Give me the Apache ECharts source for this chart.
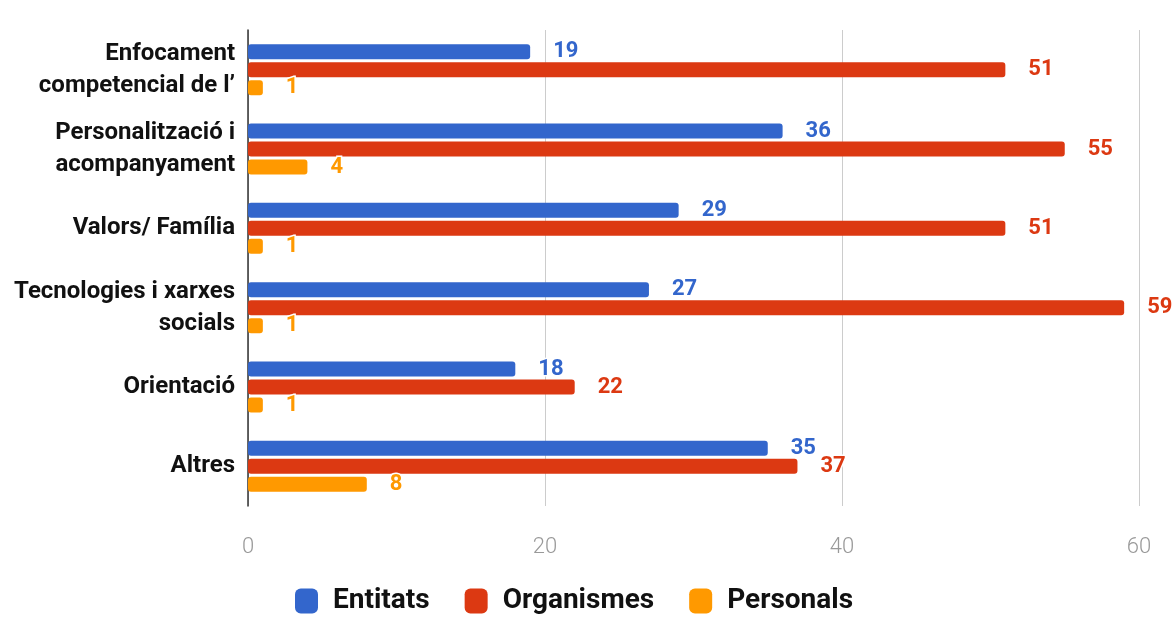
<!DOCTYPE html>
<html>
<head>
<meta charset="utf-8">
<script src="https://cdn.jsdelivr.net/npm/echarts@6/dist/echarts.min.js"></script>
<style>
  html, body { margin: 0; padding: 0; background: #fff; }
  #chart { width: 1175px; height: 617px; }
</style>
</head>
<body>
<div id="chart"></div>
<script>
// categories, top to bottom
const categories = [
  'Enfocament\ncompetencial de l’',
  'Personalització i\nacompanyament',
  'Valors/ Família',
  'Tecnologies i xarxes\nsocials',
  'Orientació',
  'Altres'
]
const entitats = [19, 36, 29, 27, 18, 35]
const organismes = [51, 55, 51, 59, 22, 37]
const personals = [1, 4, 1, 1, 1, 8]
const seriesNames = ['Entitats', 'Organismes', 'Personals']
const colors = ['#3366cc', '#dc3912', '#ff9900']

const makeSeries = (name, data, color) => ({
  name: name,
  type: 'bar',
  data: data,
  barWidth: 15,
  barGap: '20%',
  itemStyle: { color: color, borderRadius: 3 },
  label: {
    show: true,
    position: 'right',
    distance: 23,
    color: color,
    fontFamily: 'Roboto',
    fontWeight: 'bold',
    fontSize: 22,
    textBorderColor: '#fff',
    textBorderWidth: 3
  }
})

const chart = echarts.init(document.getElementById('chart'))
chart.setOption({
  backgroundColor: '#fff',
  animation: false,
  textStyle: { fontFamily: 'Roboto' },
  grid: { left: 248, right: 36, top: 30, bottom: 111 },
  legend: {
    bottom: -3,
    left: 290,
    itemWidth: 23,
    itemHeight: 25,
    itemGap: 35,
    icon: 'roundRect',
    data: seriesNames,
    textStyle: {
      color: '#111',
      fontFamily: 'Roboto',
      fontWeight: 'bold',
      fontSize: 28,
      padding: [0, 0, 0, 10]
    }
  },
  xAxis: {
    type: 'value',
    min: 0,
    max: 60,
    interval: 20,
    axisLine: { show: false },
    axisTick: { show: false },
    axisLabel: { color: '#999', fontSize: 22, margin: 30, fontFamily: 'Roboto', fontWeight: 300 },
    splitLine: { lineStyle: { color: '#ccc', width: 1 } }
  },
  yAxis: {
    type: 'category',
    inverse: true,
    data: categories,
    axisLine: { lineStyle: { color: '#333', width: 1.5 } },
    axisTick: { show: false },
    axisLabel: {
      color: '#111',
      fontFamily: 'Roboto',
      fontWeight: 'bold',
      fontSize: 24,
      lineHeight: 32,
      margin: 13,
      align: 'right'
    }
  },
  series: [
    makeSeries(seriesNames[0], entitats, colors[0]),
    makeSeries(seriesNames[1], organismes, colors[1]),
    makeSeries(seriesNames[2], personals, colors[2])
  ]
})
</script>
</body>
</html>
